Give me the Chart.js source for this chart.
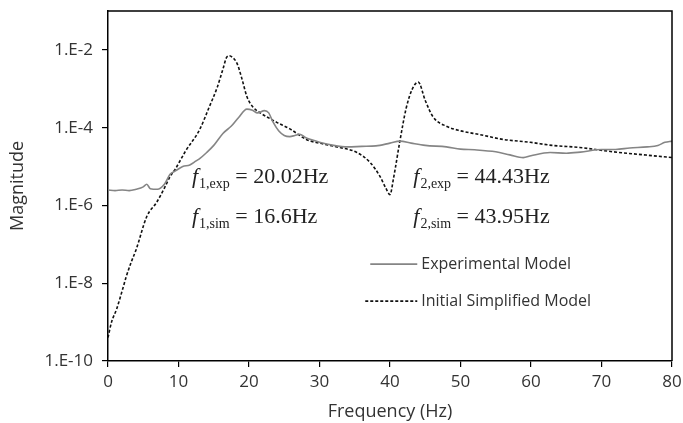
<!DOCTYPE html>
<html>
<head>
<meta charset="utf-8">
<script src="https://cdn.jsdelivr.net/npm/chart.js@4/dist/chart.umd.min.js"></script>
<style>
  html, body { margin: 0; padding: 0; background: #fff; }
  #wrap { position: relative; width: 683px; height: 423px; }
</style>
</head>
<body>
<div id="wrap"><canvas id="c" width="683" height="423"></canvas></div>
<script>
// ---- data ----
const seriesNames = ["Experimental Model", "Initial Simplified Model"];

const freqExp = [0, 1, 2, 3, 4, 5, 5.5, 6, 7, 8, 8.8, 9.5, 10.6, 11.6, 12.5, 13, 14, 15, 16.3, 17.5, 18.5, 19.7, 20.5, 21.2, 22.2, 22.8, 23.4, 24.2, 25, 25.8, 26.5, 27.2, 28, 29, 30, 32, 34, 36, 38, 40, 41.4, 43, 45, 48, 50, 52, 55, 57, 58.9, 60, 62.7, 65, 67, 70, 72, 74, 76.5, 78, 79, 80];
const magExp  = [2.5e-6, 2.4e-6, 2.5e-6, 2.4e-6, 2.6e-6, 3.0e-6, 3.5e-6, 2.7e-6, 2.6e-6, 3.5e-6, 6.3e-6, 7.6e-6, 1.0e-5, 1.1e-5, 1.4e-5, 1.6e-5, 2.3e-5, 3.5e-5, 7.1e-5, 1.1e-4, 1.8e-4, 3.0e-4, 2.8e-4, 2.4e-4, 2.75e-4, 2.4e-4, 1.4e-4, 8.3e-5, 6.3e-5, 5.9e-5, 6.3e-5, 6.8e-5, 5.6e-5, 4.8e-5, 4.2e-5, 3.5e-5, 3.2e-5, 3.3e-5, 3.4e-5, 4.0e-5, 4.5e-5, 4.0e-5, 3.5e-5, 3.2e-5, 2.8e-5, 2.7e-5, 2.4e-5, 2.0e-5, 1.7e-5, 1.9e-5, 2.3e-5, 2.2e-5, 2.35e-5, 2.75e-5, 2.75e-5, 3.0e-5, 3.2e-5, 3.5e-5, 4.2e-5, 4.5e-5];

const freqSim = [0, 0.5, 1.2, 2, 2.6, 3.3, 4, 5.5, 6.9, 8, 8.8, 9.5, 11, 13, 14.3, 15.5, 16.3, 16.8, 17.2, 17.7, 18.3, 19, 19.7, 20.5, 21.6, 23, 24, 25.8, 28.2, 30, 32.5, 35.3, 37.2, 38.6, 39.4, 40, 40.5, 41.4, 42.3, 43.1, 44, 45, 46.1, 48.1, 50, 52.8, 56, 59.9, 63, 66.9, 71.6, 76, 80];
const magSim  = [4e-10, 1e-9, 2.1e-9, 6.3e-9, 1.5e-8, 3.5e-8, 7.4e-8, 5.2e-7, 1.2e-6, 2.8e-6, 5.5e-6, 8.3e-6, 2.5e-5, 8.9e-5, 3.2e-4, 1.1e-3, 3.2e-3, 6.3e-3, 7.1e-3, 6.3e-3, 4.5e-3, 1.8e-3, 6.3e-4, 3.5e-4, 2.4e-4, 1.7e-4, 1.35e-4, 9.3e-5, 4.9e-5, 4.0e-5, 3.2e-5, 2.3e-5, 1.26e-5, 5.5e-6, 2.8e-6, 1.9e-6, 5e-6, 4.5e-5, 3.2e-4, 9.3e-4, 1.5e-3, 5e-4, 1.9e-4, 1.07e-4, 8.3e-5, 6.6e-5, 5e-5, 4.2e-5, 3.5e-5, 3.1e-5, 2.4e-5, 2e-5, 1.7e-5];

const yTickExps = [-10, -8, -6, -4, -2];
const xTicks = [0, 10, 20, 30, 40, 50, 60, 70, 80];

// annotation texts
const annotations = [
  { f: 11.9, m: 5.3e-6, sub: "1,exp", rest: " = 20.02Hz" },
  { f: 11.9, m: 5.0e-7, sub: "1,sim", rest: " = 16.6Hz" },
  { f: 43.3, m: 5.3e-6, sub: "2,exp", rest: " = 44.43Hz" },
  { f: 43.3, m: 5.0e-7, sub: "2,sim", rest: " = 43.95Hz" }
];

const toXY = (xs, ys) => xs.map((x, i) => ({ x: x, y: ys[i] }));

const sansFont = "'Open Sans', 'DejaVu Sans', sans-serif";
const serifFont = "'Liberation Serif', 'DejaVu Serif', serif";

const frameAndText = {
  id: 'frameAndText',
  afterDraw(chart) {
    const ctx = chart.ctx;
    const a = chart.chartArea;
    const xs = chart.scales.x, ys = chart.scales.y;
    ctx.save();
    // top and right border
    ctx.strokeStyle = '#000';
    ctx.lineWidth = 1.5;
    ctx.beginPath();
    ctx.moveTo(a.left, a.top);
    ctx.lineTo(a.right, a.top);
    ctx.lineTo(a.right, a.bottom);
    ctx.stroke();

    // annotations
    ctx.fillStyle = '#222';
    ctx.textBaseline = 'middle';
    ctx.textAlign = 'left';
    annotations.forEach(an => {
      let px = xs.getPixelForValue(an.f);
      const py = ys.getPixelForValue(an.m);
      ctx.font = "italic 22px " + serifFont;
      ctx.fillText("f", px, py);
      px += ctx.measureText("f").width + 1;
      ctx.font = "14px " + serifFont;
      ctx.fillText(an.sub, px, py + 7);
      px += ctx.measureText(an.sub).width;
      ctx.font = "22px " + serifFont;
      ctx.fillText(an.rest, px, py);
    });

    // legend (inside plot)
    const lx = xs.getPixelForValue(37.2);
    const ly0 = ys.getPixelForValue(3.1e-8);
    ctx.font = "16px " + sansFont;
    chart.data.datasets.forEach((ds, i) => {
      const y = ly0 + i * 37;
      ctx.strokeStyle = ds.borderColor;
      ctx.lineWidth = ds.borderWidth;
      ctx.setLineDash(ds.borderDash || []);
      ctx.beginPath();
      ctx.moveTo(lx - (i ? 5 : 0), y);
      ctx.lineTo(lx + 47, y);
      ctx.stroke();
      ctx.setLineDash([]);
      ctx.fillStyle = '#333';
      ctx.fillText(ds.label, lx + 51, y);
    });
    ctx.restore();
  }
};

const zeroPad = s => { s.paddingTop = 0; s.paddingBottom = 0; s.paddingLeft = 0; s.paddingRight = 0; };

new Chart(document.getElementById('c'), {
  type: 'scatter',
  data: {
    datasets: [
      {
        label: seriesNames[0],
        data: toXY(freqExp, magExp),
        showLine: true,
        borderColor: '#858585',
        borderWidth: 1.6,
        pointRadius: 0,
        cubicInterpolationMode: 'monotone'
      },
      {
        label: seriesNames[1],
        data: toXY(freqSim, magSim),
        showLine: true,
        borderColor: '#111',
        borderWidth: 1.6,
        borderDash: [3, 2],
        pointRadius: 0,
        cubicInterpolationMode: 'monotone'
      }
    ]
  },
  options: {
    responsive: false,
    animation: false,
    devicePixelRatio: 1,
    layout: { padding: { left: 0, right: 11, top: 11, bottom: 0 } },
    plugins: { legend: { display: false }, tooltip: { enabled: false } },
    scales: {
      x: {
        type: 'linear',
        min: 0, max: 80,
        afterBuildTicks: s => { s.ticks = xTicks.map(v => ({ value: v })); },
        afterFit: s => { s.height = 62; zeroPad(s); },
        grid: { display: true, drawOnChartArea: false, drawTicks: true, tickLength: 6, color: '#000', lineWidth: 1.2 },
        border: { display: true, color: '#000', width: 1.5 },
        ticks: { color: '#333', font: { family: sansFont, size: 17 }, padding: 5, maxRotation: 0 },
        title: { display: true, text: 'Frequency (Hz)', color: '#333', font: { family: sansFont, size: 18 }, padding: { top: 0, bottom: 0 } }
      },
      y: {
        type: 'logarithmic',
        min: 1e-10, max: 1e-1,
        afterBuildTicks: s => { s.ticks = yTickExps.map(e => ({ value: Math.pow(10, e) })); },
        afterFit: s => { s.width = 108; zeroPad(s); },
        grid: { display: true, drawOnChartArea: false, drawTicks: true, tickLength: 6, color: '#000', lineWidth: 1.2 },
        border: { display: true, color: '#000', width: 1.5 },
        ticks: {
          color: '#333', font: { family: sansFont, size: 17 }, padding: 9,
          callback: v => '1.E' + Math.round(Math.log10(v))
        },
        title: { display: true, text: 'Magnitude', color: '#333', font: { family: sansFont, size: 18 }, padding: { top: 7, bottom: 0 } }
      }
    }
  },
  plugins: [frameAndText]
});
</script>
</body>
</html>
